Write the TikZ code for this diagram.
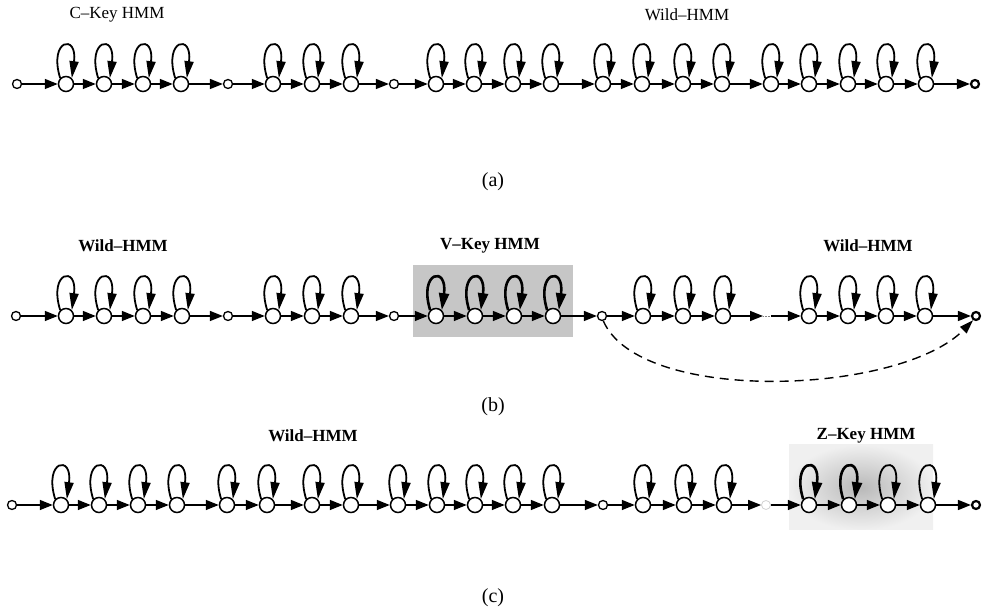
\documentclass[tikz,border=0pt]{standalone}
\usepackage{fontspec}
\setmainfont{Liberation Serif}
\usetikzlibrary{arrows.meta}
\tikzset{
  bigst/.style={circle,draw,fill=white,line width=1.5pt,minimum size=15pt,inner sep=0pt},
  smst/.style={circle,draw,fill=white,line width=1.3pt,minimum size=9pt,inner sep=0pt},
  endst/.style={circle,draw,fill=white,line width=2.2pt,minimum size=8pt,inner sep=0pt},
  faintst/.style={circle,draw=gray!35,fill=white,line width=0.8pt,minimum size=9pt,inner sep=0pt},
  arr/.style={line width=1.5pt,-{Triangle[length=13pt,width=10pt]}},
  loopst/.style={line width=1.8pt,-{Triangle[length=17pt,width=9pt]}},
  keyloop/.style={line width=2.6pt,-{Triangle[length=17pt,width=10pt]}},
  dasharr/.style={line width=1.4pt,dash pattern=on 9pt off 6pt,-{Triangle[length=14pt,width=9pt]}},
  lab/.style={font=\fontsize{17}{20}\selectfont},
  blab/.style={font=\fontsize{17}{20}\selectfont\bfseries},
  capst/.style={font=\fontsize{20}{24}\selectfont},
  shadest/.style={fill=gray!45,draw=none},
  hmmloop/.style={to path={.. controls +(-12,39) and +(6,45) .. (\tikztotarget)}},
}
\begin{document}
\begin{tikzpicture}[x=1pt,y=1pt]
\useasboundingbox (0,0) rectangle (986,613);
% ---------- shaded key regions ----------
\fill[shadest] (413,276) rectangle (573,348);
\shade[inner color=gray!55,outer color=gray!12] (789,83) rectangle (933,168);
% ---------- row (a) ----------
\foreach \x/\t [count=\i] in {17/smst,66/bigst,104/bigst,143/bigst,181/bigst,228/smst,273/bigst,312/bigst,351/bigst,394/smst,436/bigst,474/bigst,513/bigst,551/bigst,603/bigst,642/bigst,683/bigst,722/bigst,771/bigst,809/bigst,848/bigst,886/bigst,926/bigst,975/endst}
  {\node[\t] (a\i) at (\x,529) {};}
\foreach \i [evaluate=\i as \j using int(\i+1)] in {1,...,23}
  {\draw[arr] (a\i) -- (a\j);}
\foreach \i in {2,3,4,5,7,8,9,11,12,13,14,15,16,17,18,19,20,21,22,23}
  {\draw[loopst] (a\i.135) to[hmmloop] (a\i.45);}
\node[lab] (la1) at (117,598) {C--Key HMM};
\node[lab] (la2) at (687,598) {Wild--HMM};
\node[capst] (ca) at (493,431) {(a)};
% ---------- row (b) ----------
\foreach \x/\t [count=\i] in {16/smst,66/bigst,104/bigst,143/bigst,182/bigst,228/smst,273/bigst,312/bigst,351/bigst,394/smst,436/bigst,475/bigst,514/bigst,553/bigst,602/smst,643/bigst,683/bigst,723/bigst,809/bigst,848/bigst,886/bigst,925/bigst,976/endst}
  {\node[\t] (b\i) at (\x,297) {};}
\foreach \i [evaluate=\i as \j using int(\i+1)] in {1,...,17,19,20,21,22}
  {\draw[arr] (b\i) -- (b\j);}
\coordinate (bgapl) at (763,297);
\coordinate (bgapr) at (771,297);
\draw[arr] (b18) -- (bgapl);
\draw[densely dotted,line width=0.6pt,gray] (bgapl) -- (bgapr);
\draw[arr] (bgapr) -- (b19);
\foreach \i in {2,3,4,5,7,8,9,16,17,18,19,20,21,22}
  {\draw[loopst] (b\i.135) to[hmmloop] (b\i.45);}
\foreach \i in {11,12,13,14}
  {\draw[keyloop] (b\i.135) to[hmmloop] (b\i.45);}
\draw[dasharr] (b15.-75) .. controls (640,208) and (900,218) .. (b23.-125);
\node[blab] (lb1) at (123,367) {Wild--HMM};
\node[blab] (lb2) at (490,367) {V--Key HMM};
\node[blab] (lb3) at (868,367) {Wild--HMM};
\node[capst] (cb) at (493,206) {(b)};
% ---------- row (c) ----------
\foreach \x/\t [count=\i] in {12/smst,61/bigst,99/bigst,138/bigst,177/bigst,227/bigst,267/bigst,312/bigst,351/bigst,398/bigst,437/bigst,475/bigst,513/bigst,552/bigst,603/smst,643/bigst,684/bigst,724/bigst,766/faintst,809/bigst,849/bigst,888/bigst,928/bigst,976/endst}
  {\node[\t] (c\i) at (\x,108) {};}
\foreach \i [evaluate=\i as \j using int(\i+1)] in {1,...,23}
  {\draw[arr] (c\i) -- (c\j);}
\foreach \i in {2,3,4,5,6,7,8,9,10,11,12,13,14,16,17,18,22,23}
  {\draw[loopst] (c\i.135) to[hmmloop] (c\i.45);}
\foreach \i in {20,21}
  {\draw[keyloop] (c\i.135) to[hmmloop] (c\i.45);}
\node[blab] (lc1) at (313,177) {Wild--HMM};
\node[blab] (lc2) at (866,177) {Z--Key HMM};
\node[capst] (cc) at (493,15) {(c)};
\end{tikzpicture}
\end{document}
